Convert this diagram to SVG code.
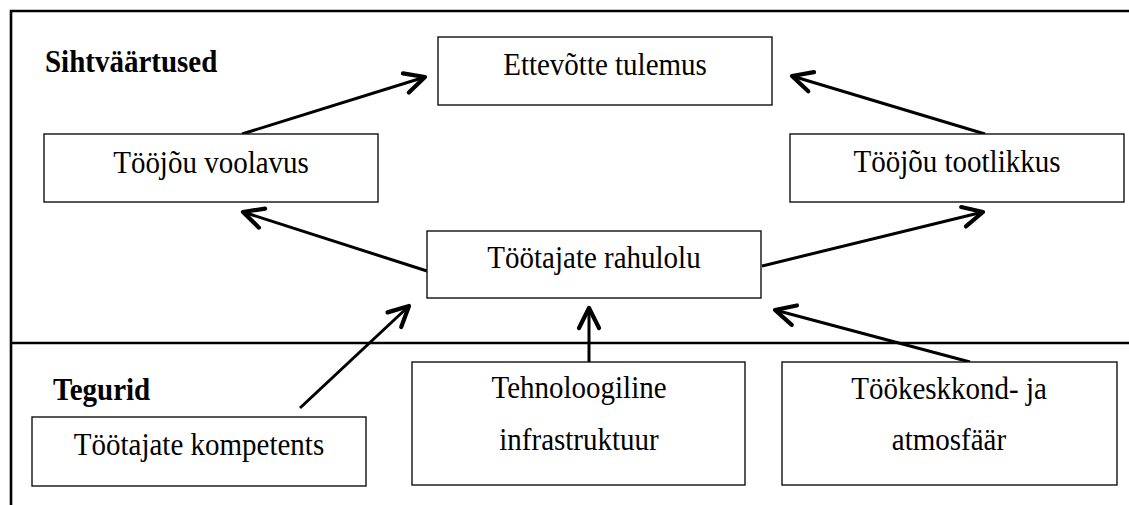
<svg xmlns="http://www.w3.org/2000/svg" width="1129" height="505" viewBox="0 0 1129 505">
  <style>
    .frame { fill: none; stroke: #000; stroke-width: 2.6; }
    .box { fill: #fff; stroke: #111; stroke-width: 1.4; }
    .lbl { font-family: "Liberation Serif", "Times New Roman", serif; font-size: 29px; fill: #000; text-anchor: middle; }
    .head { font-family: "Liberation Serif", "Times New Roman", serif; font-size: 29px; font-weight: bold; fill: #000; }
    .conn { fill: none; stroke: #000; stroke-width: 3; marker-end: url(#arrow); }
  </style>
  <defs>
    <marker id="arrow" markerUnits="userSpaceOnUse" viewBox="-26 -16 30 32" refX="0" refY="0" markerWidth="30" markerHeight="32" orient="auto" overflow="visible">
      <path d="M -20 -10 L 0 0 L -20 10" fill="none" stroke="#000" stroke-width="4.2" stroke-linecap="round" stroke-linejoin="round"/>
    </marker>
  </defs>

  <rect width="1129" height="505" fill="#fff"/>

  <!-- outer frame and section divider -->
  <g id="frame">
    <path class="frame" d="M 1129 11 H 11 V 505"/>
    <line class="frame" x1="11" y1="343" x2="1129" y2="343"/>
  </g>

  <!-- section headings (glyphs slightly stretched vertically) -->
  <text class="head" transform="translate(45 72) scale(1 1.07)">Sihtväärtused</text>
  <text class="head" transform="translate(53 400) scale(1 1.07)">Tegurid</text>

  <!-- connectors -->
  <g id="connectors">
    <line class="conn" x1="242" y1="134" x2="425" y2="77"/>
    <line class="conn" x1="985" y1="134" x2="792" y2="76"/>
    <line class="conn" x1="427" y1="271" x2="243" y2="212"/>
    <line class="conn" x1="762" y1="266" x2="983" y2="212"/>
    <line class="conn" x1="300" y1="408" x2="409" y2="306"/>
    <line class="conn" x1="589" y1="362" x2="589" y2="308"/>
    <line class="conn" x1="970" y1="362" x2="775" y2="310"/>
  </g>

  <!-- nodes -->
  <g id="ettevotte-tulemus">
    <rect class="box" x="438" y="37" width="334" height="68"/>
    <text class="lbl" transform="translate(605 75) scale(1 1.07)">Ettevõtte tulemus</text>
  </g>
  <g id="toojou-voolavus">
    <rect class="box" x="44" y="134" width="334" height="68"/>
    <text class="lbl" transform="translate(211 173) scale(1 1.07)">Tööjõu voolavus</text>
  </g>
  <g id="toojou-tootlikkus">
    <rect class="box" x="790" y="134" width="334" height="68"/>
    <text class="lbl" transform="translate(957 172) scale(1 1.07)">Tööjõu tootlikkus</text>
  </g>
  <g id="tootajate-rahulolu">
    <rect class="box" x="427" y="231" width="334" height="67"/>
    <text class="lbl" transform="translate(594 268) scale(1 1.07)">Töötajate rahulolu</text>
  </g>
  <g id="tootajate-kompetents">
    <rect class="box" x="32" y="417" width="334" height="69"/>
    <text class="lbl" transform="translate(199 455) scale(1 1.07)">Töötajate kompetents</text>
  </g>
  <g id="tehnoloogiline-infrastruktuur">
    <rect class="box" x="412" y="362" width="333" height="123"/>
    <text class="lbl" transform="translate(579 398) scale(1 1.07)">Tehnoloogiline</text>
    <text class="lbl" transform="translate(579 450) scale(1 1.07)">infrastruktuur</text>
  </g>
  <g id="tookeskkond-atmosfaar">
    <rect class="box" x="782" y="362" width="335" height="123"/>
    <text class="lbl" transform="translate(949 399) scale(1 1.07)">Töökeskkond- ja</text>
    <text class="lbl" transform="translate(949 450) scale(1 1.07)">atmosfäär</text>
  </g>
</svg>
